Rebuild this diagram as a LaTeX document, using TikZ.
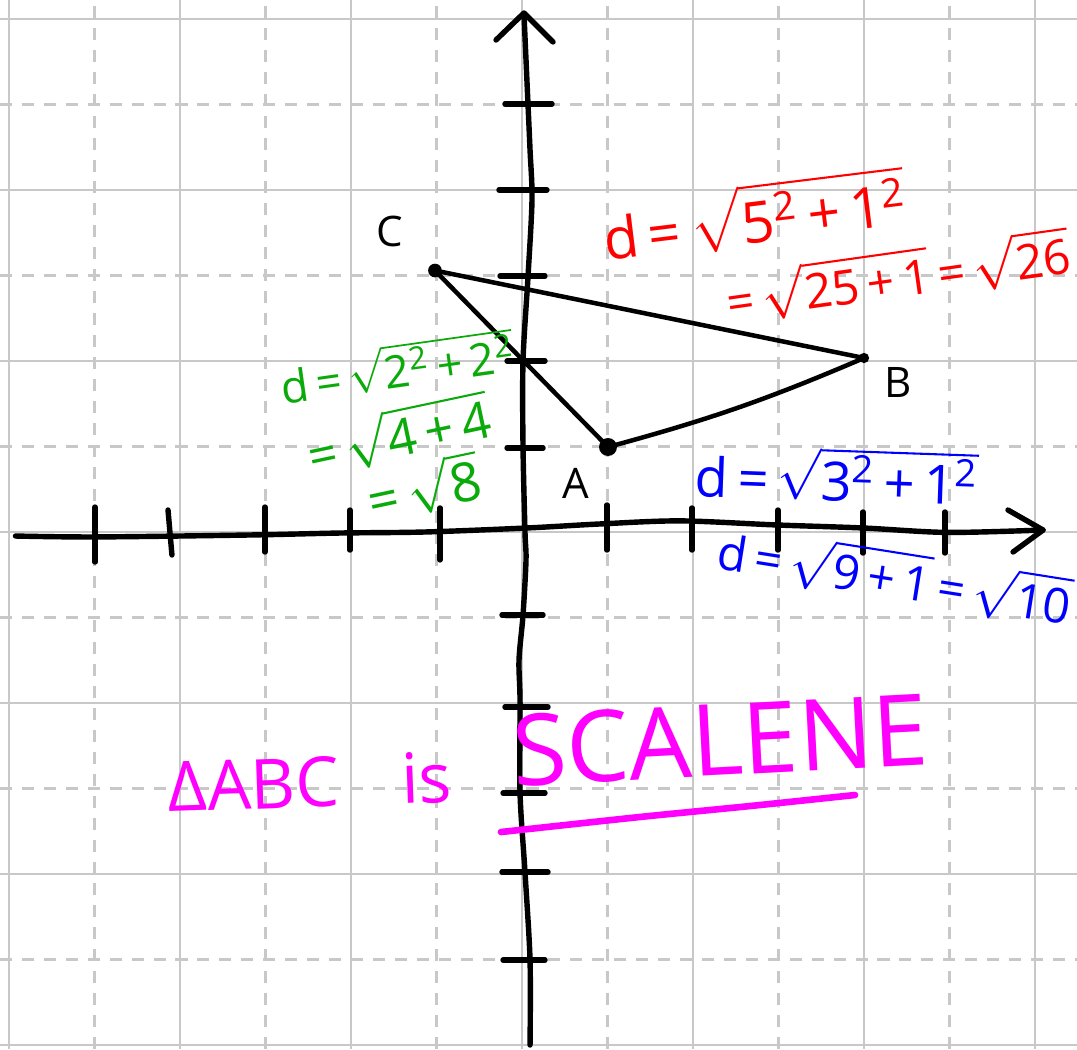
\documentclass[tikz,border=0pt]{standalone}
\usepackage{amsmath}
\usepackage{fontspec}
\setmainfont{Open Sans}
\definecolor{gridgray}{RGB}{200,200,200}
\definecolor{penred}{RGB}{255,0,0}
\definecolor{pengreen}{RGB}{10,170,10}
\definecolor{penblue}{RGB}{0,0,255}
\definecolor{penmag}{RGB}{255,0,255}
\newcommand{\rt}[1]{$\sqrt{\text{#1}}$}
\newcommand{\sq}{\textsuperscript{2}}
\begin{document}
\begin{tikzpicture}[
  gridsolid/.style={gridgray, line width=0.7pt},
  griddash/.style={gridgray, line width=0.7pt, dash pattern=on 4pt off 3.3pt},
  axis/.style={black, line width=1.8pt, line cap=round, line join=round},
  tickmark/.style={black, line width=1.8pt, line cap=round},
  side/.style={black, line width=1.5pt, line cap=round},
  vdot/.style={circle, fill=black, inner sep=0pt},
  ptlabel/.style={font=\fontsize{14}{16}\selectfont, inner sep=0pt},
  formula/.style={inner sep=0pt, anchor=center},
  pen/.style={line width=2pt, line cap=round}
]
\useasboundingbox (-6.105,-6.047) rectangle (6.491,6.222);
\fill[white] (-6.105,-6.047) rectangle (6.491,6.222);
% grid
\foreach \v in {-6,-4,...,6} {
  \draw[gridsolid] (\v,-6.047) -- (\v,6.222);
  \draw[gridsolid] (-6.105,\v) -- (6.491,\v);
}
\foreach \v in {-5,-3,...,5} {
  \draw[griddash] (\v,-6.047) -- (\v,6.222);
  \draw[griddash] (-6.105,\v) -- (6.491,\v);
}
% y-axis
\draw[axis] plot[smooth] coordinates {(0.094,-6.0) (0.094,-5.006) (0.035,-3.977) (-0.023,-3.053) (-0.023,-1.965) (-0.035,-1.497) (0.012,-0.971) (0.047,-0.327) (0.035,0) (0.012,0.994) (0.012,2.0) (0.070,2.982) (0.117,3.883) (0.094,4.468) (0.070,5.006) (0.023,6.058)};
\draw[axis] (-0.304,5.754) -- (0.023,6.070) -- (0.363,5.731);
% x-axis
\draw[axis] plot[smooth] coordinates {(-5.924,-0.047) (-4.994,-0.058) (-3.181,-0.035) (-2.129,-0.012) (-1.135,0) (0.058,0.047) (0.912,0.094) (1.848,0.130) (2.982,0.082) (3.988,0.047) (4.971,-0.005) (6.094,0.023)};
\draw[axis] (5.684,0.257) -- (6.094,0.023) -- (5.743,-0.234);
% x ticks
\draw[tickmark] (-4.994,0.292) -- (-4.994,-0.351);
\draw[tickmark] (-4.140,0.257) -- (-4.094,-0.269);
\draw[tickmark] (-3.006,0.292) -- (-3.006,-0.234);
\draw[tickmark] (-2.012,0.257) -- (-2.012,-0.211);
\draw[tickmark] (-0.959,0.281) -- (-0.959,-0.327);
\draw[tickmark] (0.994,0.316) -- (0.994,-0.211);
\draw[tickmark] (1.988,0.281) -- (1.988,-0.211);
\draw[tickmark] (2.994,0.257) -- (2.994,-0.211);
\draw[tickmark] (3.988,0.234) -- (3.988,-0.246);
\draw[tickmark] (4.947,0.234) -- (4.947,-0.246);
% y ticks
\draw[tickmark] (-0.199,5.006) -- (0.351,5.006);
\draw[tickmark] (-0.269,4.0) -- (0.292,4.0);
\draw[tickmark] (-0.257,2.994) -- (0.269,2.994);
\draw[tickmark] (-0.175,2.0) -- (0.269,2.0);
\draw[tickmark] (-0.175,0.982) -- (0.246,0.982);
\draw[tickmark] (-0.234,-0.971) -- (0.246,-0.971);
\draw[tickmark] (-0.199,-2.047) -- (0.304,-2.047);
\draw[tickmark] (-0.222,-3.053) -- (0.269,-3.053);
\draw[tickmark] (-0.234,-3.977) -- (0.304,-3.977);
\draw[tickmark] (-0.222,-5.006) -- (0.269,-5.006);
% triangle
\coordinate (A) at (1.006,0.994);
\coordinate (B) at (4.0,2.035);
\coordinate (C) at (-1.018,3.058);
\draw[side] (C) -- (B);
\draw[side] (C) -- (A);
\draw[side] (A) to[bend right=4] (B);
\node[vdot, minimum size=0.21cm] (Adot) at (A) {};
\node[vdot, minimum size=0.12cm] (Bdot) at (B) {};
\node[vdot, minimum size=0.16cm] (Cdot) at (C) {};
\node[ptlabel] (Alab) at (0.632,0.573) {A};
\node[ptlabel] (Blab) at (4.398,1.754) {B};
\node[ptlabel] (Clab) at (-1.544,3.509) {C};
% red
\node[formula, penred, rotate=7, font=\fontsize{19}{23}\selectfont] (r1) at (2.72,3.70) {d\,=\,\rt{5\sq\,+\,1\sq}};
\node[formula, penred, rotate=8, font=\fontsize{16}{20}\selectfont] (r2) at (4.40,2.99) {=\,\rt{25\,+\,1}\,=\,\rt{26}};
% green
\node[formula, pengreen, rotate=8, font=\fontsize{15}{19}\selectfont] (g1) at (-1.462,1.94) {d\,=\,\rt{2\sq\,+\,2\sq}};
\node[formula, pengreen, rotate=12, font=\fontsize{17}{21}\selectfont] (g2) at (-1.440,1.14) {=\,\rt{4\,+\,4}};
\node[formula, pengreen, rotate=12, font=\fontsize{18}{22}\selectfont] (g3) at (-1.146,0.52) {=\,\rt{8}};
% blue
\node[formula, penblue, rotate=-2, font=\fontsize{18}{22}\selectfont] (b1) at (3.684,0.67) {d\,=\,\rt{3\sq\,+\,1\sq}};
\node[formula, penblue, rotate=-9, font=\fontsize{16}{20}\selectfont] (b2) at (4.36,-0.52) {d\,=\,\rt{9\,+\,1}\,=\,\rt{10}};
% magenta
\node[formula, penmag, rotate=2, font=\fontsize{23}{27}\selectfont] (m1) at (-2.480,-2.924) {ΔABC\hspace{0.9em}is};
\node[formula, penmag, rotate=3, font=\fontsize{33}{39}\selectfont] (m2) at (2.316,-2.433) {SCALENE};
\draw[penmag, pen, line width=2.2pt] plot[smooth] coordinates {(-0.246,-3.509) (1.380,-3.333) (2.667,-3.205) (3.895,-3.076)};
\end{tikzpicture}
\end{document}
